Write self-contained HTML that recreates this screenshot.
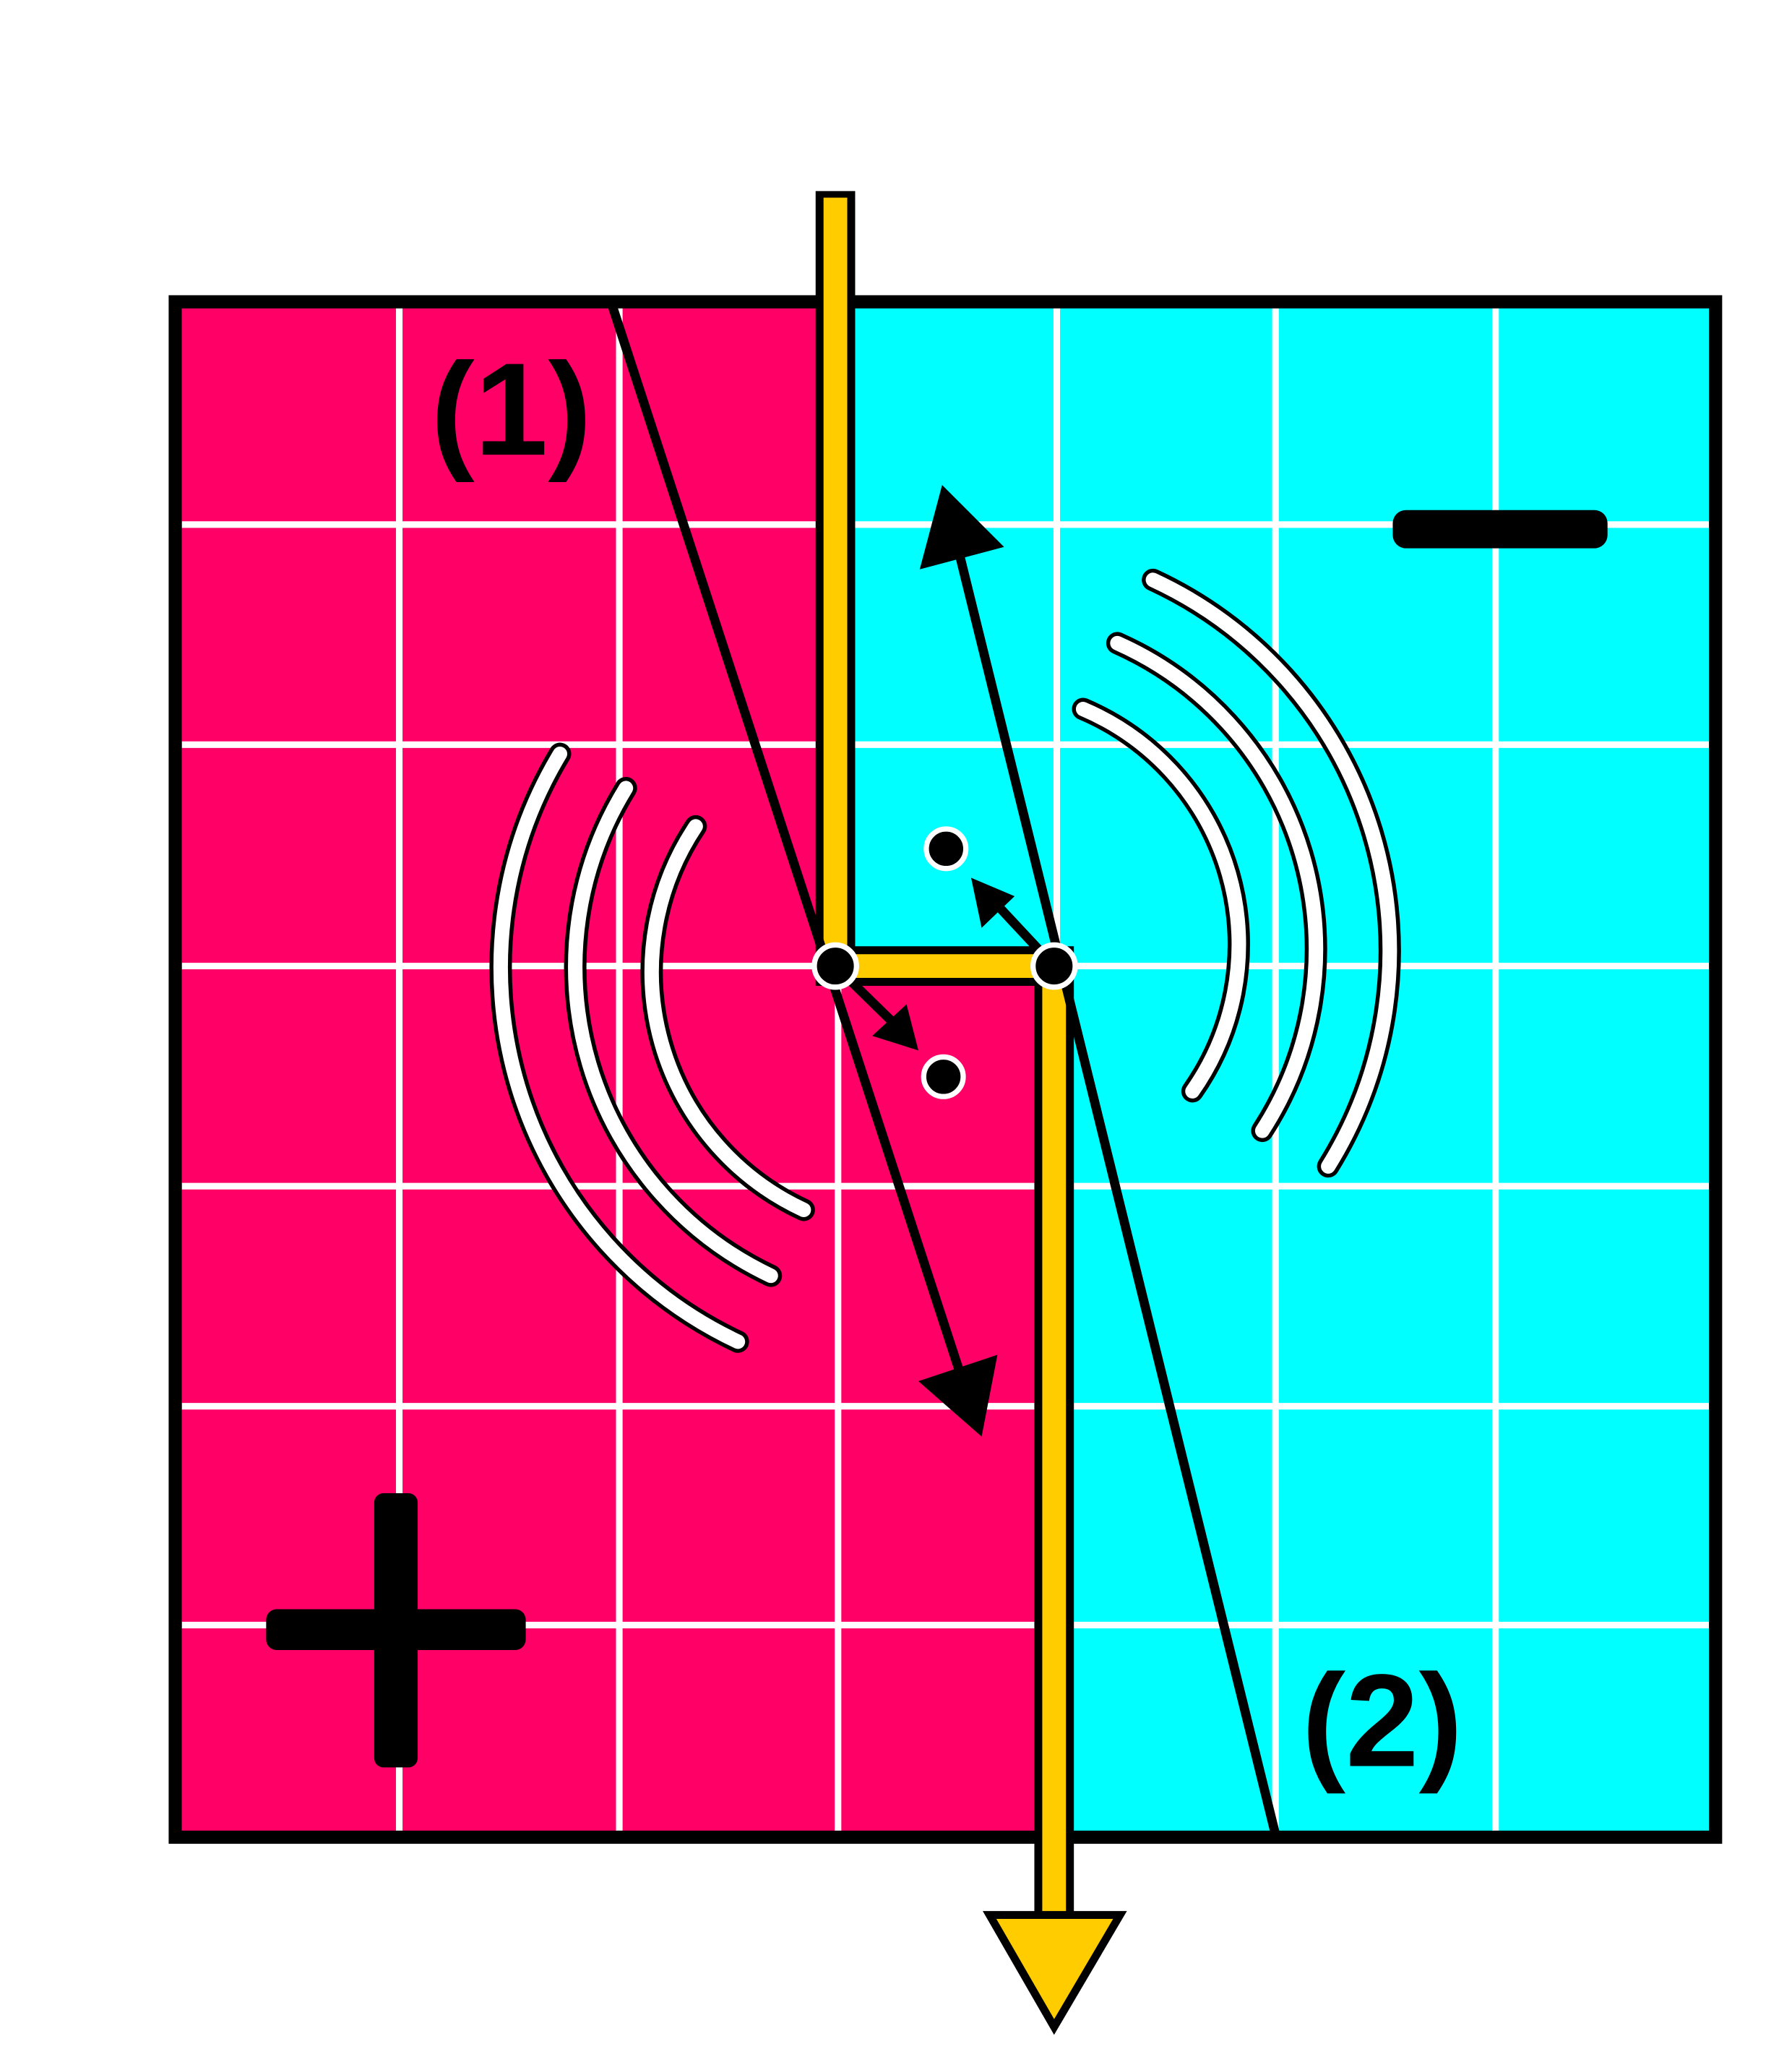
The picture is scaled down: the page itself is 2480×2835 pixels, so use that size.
<!DOCTYPE html>
<html><head><meta charset="utf-8"><style>
html,body{margin:0;padding:0;background:#fff;}
svg{display:block;}
</style></head><body>
<svg width="2480" height="2835" viewBox="0 0 1360 1554.7" preserveAspectRatio="none" xmlns="http://www.w3.org/2000/svg">
<rect x="0" y="0" width="1360" height="1555" fill="#fff"/>
<rect x="138" y="233" width="1160" height="1157" fill="#00ffff"/>
<polygon points="138,233 634,233 634,733 800,733 800,1390 138,1390" fill="#ff0066"/>
<g stroke="#fff" stroke-width="5">
<line x1="303" y1="233" x2="303" y2="1390"/>
<line x1="470" y1="233" x2="470" y2="1390"/>
<line x1="636" y1="233" x2="636" y2="1390"/>
<line x1="802" y1="233" x2="802" y2="1390"/>
<line x1="968" y1="233" x2="968" y2="1390"/>
<line x1="1135" y1="233" x2="1135" y2="1390"/>
<line x1="138" y1="398" x2="1298" y2="398"/>
<line x1="138" y1="565" x2="1298" y2="565"/>
<line x1="138" y1="733" x2="1298" y2="733"/>
<line x1="138" y1="900" x2="1298" y2="900"/>
<line x1="138" y1="1067" x2="1298" y2="1067"/>
<line x1="138" y1="1233" x2="1298" y2="1233"/>
</g>
<rect x="133" y="229" width="1169" height="1165" fill="none" stroke="#000" stroke-width="10"/>
<g fill="none" stroke-linecap="round">
<g stroke="#000" stroke-width="17">
<path d="M425,572 A314,314 0 0 0 560,1018"/>
<path d="M475,598 A259,259 0 0 0 585,968"/>
<path d="M528,627 A199,199 0 0 0 610,918"/>
<path d="M875,440 A310,310 0 0 1 1008,885"/>
<path d="M848,488 A254,254 0 0 1 958,858"/>
<path d="M822,538 A194,194 0 0 1 905,828"/>
</g>
<g stroke="#fff" stroke-width="11">
<path d="M425,572 A314,314 0 0 0 560,1018"/>
<path d="M475,598 A259,259 0 0 0 585,968"/>
<path d="M528,627 A199,199 0 0 0 610,918"/>
<path d="M875,440 A310,310 0 0 1 1008,885"/>
<path d="M848,488 A254,254 0 0 1 958,858"/>
<path d="M822,538 A194,194 0 0 1 905,828"/>
</g>
</g>
<g fill="none" stroke-linejoin="miter">
<path d="M634,145 L634,733 L800,733 L800,1460" stroke="#000" stroke-width="30"/>
<path d="M634,150 L634,733 L800,733 L800,1465" stroke="#ffcc00" stroke-width="18"/>
</g>
<polygon points="751,1453 850,1453 800,1538" fill="#ffcc00" stroke="#000" stroke-width="6" stroke-linejoin="miter"/>
<g stroke="#000" stroke-width="7" stroke-linecap="butt">
<line x1="465" y1="233" x2="728" y2="1040"/>
<line x1="968" y1="1392" x2="728" y2="420"/>
<line x1="634" y1="733" x2="680" y2="778"/>
<line x1="800" y1="733" x2="758" y2="688"/>
</g>
<polygon points="745,1090 697,1048 757,1028" fill="#000"/>
<polygon points="715,368 698,432 762,415" fill="#000"/>
<polygon points="737,666 745,704 770,680" fill="#000"/>
<polygon points="697,797 662,786 688,762" fill="#000"/>
<g fill="#000" stroke="#fff" stroke-width="4">
<circle cx="634" cy="733" r="16"/>
<circle cx="800" cy="733" r="16"/>
<circle cx="718" cy="644" r="15"/>
<circle cx="716" cy="817" r="15"/>
</g>
<text x="388" y="345" font-family="Liberation Sans, sans-serif" font-weight="bold" font-size="100" text-anchor="middle" fill="#000">(1)</text>
<text x="1049" y="1340" font-family="Liberation Sans, sans-serif" font-weight="bold" font-size="100" text-anchor="middle" fill="#000">(2)</text>
<rect x="1057" y="387" width="163" height="29" rx="10" fill="#000"/>
<rect x="284" y="1133" width="33" height="208" rx="7" fill="#000"/>
<rect x="202" y="1221" width="197" height="31" rx="8" fill="#000"/>
</svg>
</body></html>
